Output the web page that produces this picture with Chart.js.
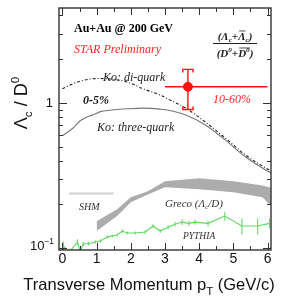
<!DOCTYPE html>
<html><head><meta charset="utf-8">
<script src="https://cdn.jsdelivr.net/npm/chart.js@4.4.1/dist/chart.umd.min.js"></script>
<style>html,body{margin:0;padding:0;background:#fff}canvas{display:block}</style>
</head><body>
<canvas id="c" width="287" height="300"></canvas>
<script>
// ---- data ----
const xTicks = [0,1,2,3,4,5,6];
const yMajorTicks = [0.1, 1];
const yMinorTicks = [0.2,0.3,0.4,0.5,0.6,0.7,0.8,0.9,2,3,4];

const koDiPt  = [0,0.23,0.52,0.82,1.11,1.4,1.9,2.36,2.86,3.1,3.59,4.17,4.75,5.34,5.92,6.1];
const koDiVal = [1.25,1.33,1.41,1.46,1.47,1.46,1.39,1.25,1.13,1.06,0.924,0.741,0.576,0.44,0.359,0.34];

const ko3Pt  = [0,0.32,0.52,0.73,0.9,1.11,1.4,1.9,2.36,2.86,3.1,3.59,4.17,4.75,5.34,5.92,6.1];
const ko3Val = [0.594,0.674,0.753,0.802,0.828,0.87,0.89,0.91,0.92,0.905,0.89,0.828,0.707,0.558,0.427,0.348,0.33];

const grecoPt = [1.0,1.6,2.0,2.5,3.0,4.0,5.0,5.85,6.1];
const grecoLo = [0.131,0.166,0.207,0.234,0.262,0.254,0.242,0.224,0.195];
const grecoHi = [0.153,0.185,0.224,0.246,0.288,0.302,0.288,0.27,0.26];

const shmPt  = [0.2, 1.5];
const shmVal = [0.238, 0.238];

const pythiaPt  = [0.03,0.2,0.44,0.52,0.61,0.76,0.96,1.11,1.31,1.46,1.6,1.75,1.9,2.13,2.42,2.65,2.86,3.09,3.29,3.5,3.7,3.88,4.26,4.75,5.25,5.71,6.06];
const pythiaVal = [0.103,0.094,0.11,0.095,0.107,0.107,0.11,0.112,0.119,0.121,0.123,0.131,0.127,0.127,0.129,0.142,0.131,0.139,0.146,0.151,0.148,0.151,0.148,0.166,0.142,0.142,0.148];
const pythiaErr = [0.008,0.005,0.005,0.006,0.004,0.003,0.003,0.003,0.003,0.003,0.003,0.004,0.003,0.003,0.004,0.004,0.004,0.005,0.006,0.007,0.006,0.006,0.007,0.012,0.018,0.018,0.012];

const starPt = [3.67];
const starVal = [1.29];
const starXLo = [3.0], starXHi = [6.0];
const starYLo = [0.9], starYHi = [1.7];

// ---- helpers ----
const pts = (xs, ys) => xs.map((x, i) => ({x, y: ys[i]}));

function rich(ctx, x, y, segs, o) {
  const size = o.size, fam = o.family || 'Liberation Serif';
  const font = s => `${o.style||'normal'} ${o.weight||'normal'} ${s}px ${fam}`;
  let w = 0;
  segs.forEach(sg => { ctx.font = font(size*(sg.s||1)); sg.w = ctx.measureText(sg.t).width; w += sg.w; });
  let cx = x;
  if (o.align === 'center') cx = x - w/2; else if (o.align === 'right') cx = x - w;
  ctx.fillStyle = o.color || '#000';
  ctx.strokeStyle = o.color || '#000';
  ctx.textBaseline = 'alphabetic';
  ctx.textAlign = 'left';
  segs.forEach(sg => {
    const s = size*(sg.s||1);
    ctx.font = font(s);
    const yy = y + (sg.dy||0)*size;
    ctx.fillText(sg.t, cx, yy);
    if (sg.over) {
      ctx.lineWidth = 0.8;
      ctx.beginPath();
      ctx.moveTo(cx + 1, yy - s*0.82);
      ctx.lineTo(cx + (sg.overW || sg.w), yy - s*0.82);
      ctx.stroke();
    }
    cx += sg.w;
  });
  return w;
}

const errorBars = {
  id: 'errorBars',
  afterDatasetsDraw(chart) {
    const ctx = chart.ctx, xs = chart.scales.x, ys = chart.scales.y;
    ctx.save();
    ctx.strokeStyle = '#5fd85f'; ctx.lineWidth = 1;
    ctx.beginPath(); ctx.rect(chart.chartArea.left, chart.chartArea.top, chart.chartArea.width, chart.chartArea.height); ctx.clip();
    pythiaPt.forEach((p, i) => {
      const px = xs.getPixelForValue(p);
      ctx.beginPath();
      ctx.moveTo(px, ys.getPixelForValue(pythiaVal[i] - pythiaErr[i]));
      ctx.lineTo(px, ys.getPixelForValue(pythiaVal[i] + pythiaErr[i]));
      ctx.stroke();
    });
    ctx.strokeStyle = '#ff1010'; ctx.lineWidth = 1.4;
    starPt.forEach((p, i) => {
      const px = xs.getPixelForValue(p), py = ys.getPixelForValue(starVal[i]);
      ctx.beginPath();
      ctx.moveTo(xs.getPixelForValue(starXLo[i]), py); ctx.lineTo(xs.getPixelForValue(starXHi[i]), py);
      const yt = ys.getPixelForValue(starYHi[i]), yb = ys.getPixelForValue(starYLo[i]);
      ctx.moveTo(px, yt); ctx.lineTo(px, yb);
      const bl = xs.getPixelForValue(p - 0.15), br = xs.getPixelForValue(p + 0.15);
      ctx.moveTo(bl, yt + 3); ctx.lineTo(bl, yt); ctx.lineTo(br, yt); ctx.lineTo(br, yt + 3);
      ctx.moveTo(bl, yb - 3); ctx.lineTo(bl, yb); ctx.lineTo(br, yb); ctx.lineTo(br, yb - 3);
      ctx.stroke();
    });
    ctx.restore();
  }
};

const frameAndText = {
  id: 'frameAndText',
  afterDraw(chart) {
    const ctx = chart.ctx, xs = chart.scales.x, ys = chart.scales.y;
    const {left, right, top, bottom} = chart.chartArea;
    ctx.save();
    ctx.strokeStyle = '#333'; ctx.lineWidth = 1.4;
    ctx.strokeRect(left, top, right - left, bottom - top);
    ctx.lineWidth = 1;
    ctx.beginPath();
    for (let v = 0; v <= 6.01; v += 0.5) {
      const px = Math.round(xs.getPixelForValue(v)) + 0.5;
      const len = Math.abs(v - Math.round(v)) < 1e-6 ? 7 : 4;
      ctx.moveTo(px, bottom); ctx.lineTo(px, bottom - len);
      ctx.moveTo(px, top); ctx.lineTo(px, top + len);
    }
    yMajorTicks.concat(yMinorTicks).forEach(v => {
      const py = Math.round(ys.getPixelForValue(v)) + 0.5;
      const len = yMajorTicks.includes(v) ? 8 : 4;
      ctx.moveTo(left, py); ctx.lineTo(left + len, py);
      ctx.moveTo(right, py); ctx.lineTo(right - len, py);
    });
    ctx.stroke();

    const sans = 'Liberation Sans';
    rich(ctx, 53, ys.getPixelForValue(1) + 4.5, [{t:'1'}], {size:13, family:sans, align:'right', color:'#111'});
    rich(ctx, 54, ys.getPixelForValue(0.1) + 2, [{t:'10'},{t:'\u22121', s:0.65, dy:-0.45}], {size:13, family:sans, align:'right', color:'#111'});

    rich(ctx, 149, 290, [{t:'Transverse Momentum p'},{t:'T', s:0.7, dy:0.3},{t:' (GeV/c)'}], {size:16.5, family:sans, align:'center', color:'#111'});
    ctx.save();
    ctx.translate(27, 103); ctx.rotate(-Math.PI/2);
    rich(ctx, 0, 0, [{t:'\u039B'},{t:'c', s:0.65, dy:0.25},{t:' / D'},{t:'0', s:0.65, dy:-0.45}], {size:18, family:sans, align:'center', color:'#111'});
    ctx.restore();

    rich(ctx, 74, 32, [{t:'Au+Au @ 200 GeV'}], {size:12, weight:'bold', color:'#000'});
    rich(ctx, 74, 53, [{t:'STAR Preliminary'}], {size:12, style:'italic', color:'#ff2020'});
    rich(ctx, 103, 81, [{t:'Ko: di-quark'}], {size:12, style:'italic', color:'#222'});
    rich(ctx, 83, 104, [{t:'0-5%'}], {size:12, style:'italic', weight:'bold', color:'#111'});
    rich(ctx, 97, 131, [{t:'Ko: three-quark'}], {size:12, style:'italic', color:'#222'});
    rich(ctx, 213, 103, [{t:'10-60%'}], {size:12, style:'italic', color:'#ff2020'});
    rich(ctx, 79, 210, [{t:'SHM'}], {size:10, style:'italic', color:'#333'});
    rich(ctx, 165, 207, [{t:'Greco ('},{t:'\u039B'},{t:'c', s:0.65, dy:0.2},{t:'/D)'}], {size:11, style:'italic', color:'#333'});
    rich(ctx, 183, 239, [{t:'PYTHIA'}], {size:9.5, style:'italic', color:'#333'});

    const fx = 235;
    rich(ctx, fx, 40, [{t:'('},{t:'\u039B'},{t:'c', s:0.65, dy:0.2},{t:'+'},{t:'\u039B', over:true},{t:'c', s:0.65, dy:0.2},{t:')'}], {size:11, style:'italic', weight:'bold', color:'#222', align:'center'});
    ctx.strokeStyle = '#222'; ctx.lineWidth = 1;
    ctx.beginPath(); ctx.moveTo(213, 43.5); ctx.lineTo(257, 43.5); ctx.stroke();
    rich(ctx, fx, 57, [{t:'(D'},{t:'0', s:0.65, dy:-0.42},{t:'+'},{t:'D', over:true, overW: 12},{t:'0', s:0.65, dy:-0.42},{t:')'}], {size:11, style:'italic', weight:'bold', color:'#222', align:'center'});
    ctx.restore();
  }
};

new Chart(document.getElementById('c'), {
  type: 'line',
  data: {
    datasets: [
      {label:'grecoLo', data: pts(grecoPt, grecoLo), borderWidth:0, pointRadius:0, fill:false, borderColor:'#aaa', tension:0},
      {label:'grecoHi', data: pts(grecoPt, grecoHi), borderWidth:0, pointRadius:0, fill:'-1', backgroundColor:'#acacac', borderColor:'#aaa', tension:0},
      {label:'SHM', data: pts(shmPt, shmVal), borderColor:'#d0d0d0', borderWidth:2, pointRadius:0},
      {label:'Ko di-quark', data: pts(koDiPt, koDiVal), borderColor:'#222', borderWidth:1.1, borderDash:[3,2,1,2], pointRadius:0, cubicInterpolationMode:'monotone'},
      {label:'Ko three-quark', data: pts(ko3Pt, ko3Val), borderColor:'#777', borderWidth:1.1, pointRadius:0, cubicInterpolationMode:'monotone'},
      {label:'PYTHIA', data: pts(pythiaPt, pythiaVal), borderColor:'#5fd85f', borderWidth:1.1, pointRadius:0, tension:0},
      {label:'STAR', data: pts(starPt, starVal), showLine:false, pointRadius:4.5, pointBackgroundColor:'#ff1010', pointBorderColor:'#ff1010', borderColor:'#ff1010'}
    ]
  },
  options: {
    responsive: false, animation: false, devicePixelRatio: 1,
    clip: {left:0, top:0, right:0, bottom:0},
    layout: {padding: {left:0, right:16, top:8, bottom:0}},
    plugins: {legend:{display:false}, tooltip:{enabled:false}},
    elements: {line:{fill:false}},
    scales: {
      x: {
        type: 'linear', min: -0.1, max: 6.1,
        grid: {display:false, drawTicks:false}, border: {display:false},
        afterBuildTicks: s => { s.ticks = xTicks.map(v => ({value: v})); },
        ticks: {font: {family:'Liberation Sans', size:14}, color:'#111', padding:1, maxRotation:0, autoSkip:false},
        afterFit: s => { s.height = 50; }
      },
      y: {
        type: 'logarithmic', min: 0.097, max: 4.5,
        grid: {display:false, drawTicks:false}, border: {display:false},
        ticks: {display:false},
        afterFit: s => { s.width = 59; }
      }
    }
  },
  plugins: [errorBars, frameAndText]
});
</script>
</body></html>
